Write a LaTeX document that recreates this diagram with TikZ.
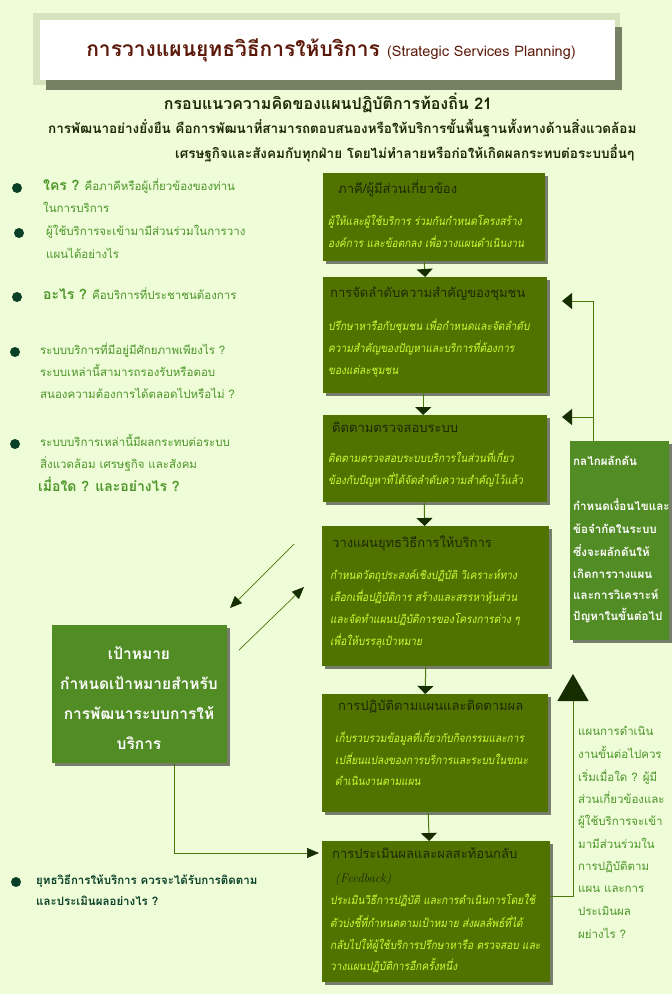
\documentclass[tikz,border=0pt]{standalone}
\usepackage{fontspec}
\newfontfamily\thai[Script=Thai]{Loma}
\newfontfamily\thaislim[Script=Thai,FakeStretch=0.88]{Loma}
\usetikzlibrary{positioning}
\usetikzlibrary{arrows.meta}
\usetikzlibrary{shadows}

\definecolor{pagegreen}{RGB}{238,252,216}
\definecolor{boxolive}{RGB}{80,115,0}
\definecolor{boxlight}{RGB}{82,140,36}
\definecolor{hdrdark}{RGB}{28,40,5}
\definecolor{bodylime}{RGB}{204,255,51}
\definecolor{tipdark}{RGB}{22,45,0}
\definecolor{linkolive}{RGB}{74,118,10}
\definecolor{asktext}{RGB}{76,150,40}
\definecolor{dotdark}{RGB}{10,64,40}
\definecolor{titlered}{RGB}{92,26,10}
\definecolor{titleglow}{RGB}{214,228,190}
\definecolor{titleshade}{RGB}{118,128,98}

\newcommand\leadq[1]{{\fontsize{14}{16}\selectfont\bfseries #1}}

\tikzset{
  mainbox/.style={fill=boxolive, anchor=north west, inner sep=0,
    drop shadow={shadow xshift=3pt, shadow yshift=-3pt, fill=black, opacity=.5}},
  sidebox/.style={mainbox, fill=boxlight},
  hdr/.style={font=\thai\fontsize{13}{15}\selectfont, text=hdrdark, anchor=mid west, inner sep=0},
  bodytxt/.style={font=\thaislim\fontsize{11.5}{14}\selectfont\itshape, text=bodylime, anchor=mid west, inner sep=0},
  sidetxt/.style={font=\thai\fontsize{11.6}{14}\selectfont\bfseries, text=white, anchor=mid west, inner sep=0},
  goaltxt/.style={font=\thai\fontsize{15.5}{18}\selectfont\bfseries, text=white, inner sep=0},
  asktxt/.style={font=\thai\fontsize{11.5}{14}\selectfont, text=asktext, anchor=mid west, inner sep=0},
  introtxt/.style={font=\thai\fontsize{13.5}{15}\selectfont\bfseries, text=hdrdark, anchor=mid west, inner sep=0},
  dot/.style={circle, fill=dotdark, minimum size=10pt, inner sep=0},
  flow/.style={draw=linkolive, line width=1pt, -{Triangle[width=16pt,length=8pt,fill=tipdark,color=tipdark]}},
  fbline/.style={draw=linkolive, line width=1pt, -{Triangle[width=16pt,length=10pt,fill=tipdark,color=tipdark]}},
  upline/.style={draw=linkolive, line width=1pt, -{Triangle[width=31pt,length=27pt,fill=tipdark,color=tipdark]}},
  goalline/.style={draw=linkolive, line width=.7pt, -{Triangle[width=10pt,length=12pt,fill=tipdark,color=tipdark]}}
}

\begin{document}
\begin{tikzpicture}[x=1pt,y=-1pt]
\useasboundingbox (0,0) rectangle (672,994);
\fill[pagegreen] (0,0) rectangle (672,994);

% heading
\fill[titleglow] (33,13) rectangle (620,85);
\fill[titleshade] (46,27) rectangle (622,90);
\fill[white] (40,20) rectangle (615,80);
\node[font=\thai\fontsize{21}{23}\selectfont\bfseries, text=titlered] (title) at (331,50)
  {การวางแผนยุทธวิธีการให้บริการ {\fontsize{14.5}{16}\selectfont\mdseries (Strategic Services Planning)}};
\node[font=\thai\fontsize{16}{19}\selectfont\bfseries, text=hdrdark] (frame) at (328,103)
  {กรอบแนวความคิดของแผนปฏิบัติการท้องถิ่น 21};
\node[introtxt] (intro1) at (48,131)
  {การพัฒนาอย่างยั่งยืน คือการพัฒนาที่สามารถตอบสนองหรือให้บริการขั้นพื้นฐานทั้งทางด้านสิ่งแวดล้อม};
\node[introtxt] (intro2) at (175,156)
  {เศรษฐกิจและสังคมกับทุกฝ่าย โดยไม่ทำลายหรือก่อให้เกิดผลกระทบต่อระบบอื่นๆ};

% questions on the left
\node[dot] (d1) at (17,188) {};
\node[dot] (d2) at (19,233) {};
\node[dot] (d3) at (17,297) {};
\node[dot] (d4) at (15,352) {};
\node[dot] (d5) at (15,444) {};
\node[dot] (d6) at (16,882) {};
\node[asktxt] (q1a) at (43,188) {\leadq{ใคร ?} คือภาคีหรือผู้เกี่ยวข้องของท่าน};
\node[asktxt] (q1b) at (43,210) {ในการบริการ};
\node[asktxt] (q2a) at (46,233) {ผู้ใช้บริการจะเข้ามามีส่วนร่วมในการวาง};
\node[asktxt] (q2b) at (46,256) {แผนได้อย่างไร};
\node[asktxt] (q3) at (43,297) {\leadq{อะไร ?} คือบริการที่ประชาชนต้องการ};
\node[asktxt] (q4a) at (40,352) {ระบบบริการที่มีอยู่มีศักยภาพเพียงไร ?};
\node[asktxt] (q4b) at (40,374) {ระบบเหล่านี้สามารถรองรับหรือตอบ};
\node[asktxt] (q4c) at (40,396) {สนองความต้องการได้ตลอดไปหรือไม่ ?};
\node[asktxt] (q5a) at (40,444) {ระบบบริการเหล่านี้มีผลกระทบต่อระบบ};
\node[asktxt] (q5b) at (40,466) {สิ่งแวดล้อม เศรษฐกิจ และสังคม};
\node[asktxt] (q5c) at (38,489) {\leadq{เมื่อใด ? และอย่างไร ?}};
\node[asktxt, text=dotdark, font=\thai\fontsize{11.5}{14}\selectfont\bfseries] (q6a) at (36,882) {ยุทธวิธีการให้บริการ ควรจะได้รับการติดตาม};
\node[asktxt, text=dotdark, font=\thai\fontsize{11.5}{14}\selectfont\bfseries] (q6b) at (36,903) {และประเมินผลอย่างไร ?};

% process boxes
\node[mainbox, minimum width=222, minimum height=88] (b1) at (323,173) {};
\node[mainbox, minimum width=224, minimum height=116] (b2) at (323,277) {};
\node[mainbox, minimum width=224, minimum height=87] (b3) at (323,415) {};
\node[mainbox, minimum width=227, minimum height=140] (b4) at (322,526) {};
\node[mainbox, minimum width=226, minimum height=118] (b5) at (322,694) {};
\node[mainbox, minimum width=228, minimum height=141] (b6) at (322,841) {};
\node[sidebox, minimum width=99, minimum height=199] (push) at (570,441) {};
\node[sidebox, minimum width=175, minimum height=138] (goal) at (52,625) {};

\node[hdr] (b1h) at (338,191) {ภาคี/ผู้มีส่วนเกี่ยวข้อง};
\node[bodytxt] (b1t1) at (328,223) {ผู้ให้และผู้ใช้บริการ ร่วมกันกำหนดโครงสร้าง};
\node[bodytxt] (b1t2) at (328,245) {องค์การ และข้อตกลง เพื่อวางแผนดำเนินงาน};

\node[hdr] (b2h) at (330,295) {การจัดลำดับความสำคัญของชุมชน};
\node[bodytxt] (b2t1) at (328,328) {ปรึกษาหารือกับชุมชน เพื่อกำหนดและจัดลำดับ};
\node[bodytxt] (b2t2) at (328,350) {ความสำคัญของปัญหาและบริการที่ต้องการ};
\node[bodytxt] (b2t3) at (328,372) {ของแต่ละชุมชน};

\node[hdr] (b3h) at (332,430) {ติดตามตรวจสอบระบบ};
\node[bodytxt] (b3t1) at (328,460) {ติดตามตรวจสอบระบบบริการในส่วนที่เกี่ยว};
\node[bodytxt] (b3t2) at (328,482) {ข้องกับปัญหาที่ได้จัดลำดับความสำคัญไว้แล้ว};

\node[hdr] (b4h) at (332,545) {วางแผนยุทธวิธีการให้บริการ};
\node[bodytxt] (b4t1) at (330,577) {กำหนดวัตถุประสงค์เชิงปฏิบัติ วิเคราะห์ทาง};
\node[bodytxt] (b4t2) at (330,599) {เลือกเพื่อปฏิบัติการ สร้างและสรรหาหุ้นส่วน};
\node[bodytxt] (b4t3) at (330,621) {และจัดทำแผนปฏิบัติการของโครงการต่าง ๆ};
\node[bodytxt] (b4t4) at (330,643) {เพื่อให้บรรลุเป้าหมาย};

\node[hdr] (b5h) at (338,708) {การปฏิบัติตามแผนและติดตามผล};
\node[bodytxt] (b5t1) at (335,740) {เก็บรวบรวมข้อมูลที่เกี่ยวกับกิจกรรมและการ};
\node[bodytxt] (b5t2) at (335,762) {เปลี่ยนแปลงของการบริการและระบบในขณะ};
\node[bodytxt] (b5t3) at (335,783) {ดำเนินงานตามแผน};

\node[hdr] (b6h) at (332,856) {การประเมินผลและผลสะท้อนกลับ};
\node[hdr, font=\rmfamily\itshape\fontsize{12.5}{14}\selectfont] (b6f) at (335,880) {(Feedback)};
\node[bodytxt] (b6t1) at (330,902) {ประเมินวิธีการปฏิบัติ และการดำเนินการโดยใช้};
\node[bodytxt] (b6t2) at (330,925) {ตัวบ่งชี้ที่กำหนดตามเป้าหมาย ส่งผลลัพธ์ที่ได้};
\node[bodytxt] (b6t3) at (330,947) {กลับไปให้ผู้ใช้บริการปรึกษาหารือ ตรวจสอบ และ};
\node[bodytxt] (b6t4) at (330,968) {วางแผนปฏิบัติการอีกครั้งหนึ่ง};

% driving force box
\node[sidetxt] (pushh) at (573,463) {กลไกผลักดัน};
\foreach \y/\t [count=\i] in {508/กำหนดเงื่อนไขและ, 531/ข้อจำกัดในระบบ, 554/ซึ่งจะผลักดันให้,
    576/เกิดการวางแผน, 597/และการวิเคราะห์, 618/ปัญหาในขั้นต่อไป}
  \node[sidetxt] (push\i) at (573,\y) {\t};

% goal box
\node[goaltxt] (goal1) at (139,653) {เป้าหมาย};
\node[goaltxt] (goal2) at (139,683) {กำหนดเป้าหมายสำหรับ};
\node[goaltxt] (goal3) at (139,713) {การพัฒนาระบบการให้};
\node[goaltxt] (goal4) at (139,743) {บริการ};

% next step questions
\foreach \y/\t [count=\i] in {733/แผนการดำเนิน, 756/งานขั้นต่อไปควร, 779/เริ่มเมื่อใด ? ผู้มี,
    801/ส่วนเกี่ยวข้องและ, 823/ผู้ใช้บริการจะเข้า, 846/มามีส่วนร่วมใน, 868/การปฏิบัติตาม,
    890/แผน และการ, 913/ประเมินผล, 936/ผย่างไร ?}
  \node[asktxt] (next\i) at (578,\y) {\t};

% connectors
\draw[flow] ([xshift=-10pt]b1.south) -- ([xshift=-10pt]b2.north);
\draw[flow] ([xshift=-12pt]b2.south) -- ([xshift=-12pt]b3.north);
\draw[flow] ([xshift=-11pt]b3.south) -- ([xshift=-11pt]b4.north);
\draw[flow] ([xshift=-10pt]b4.south) -- ([xshift=-10pt]b5.north);
\draw[flow] ([xshift=-7pt]b5.south) -- ([xshift=-7pt]b6.north);

\coordinate (fbtop) at (593,301);
\coordinate (fbin1) at (562,301);
\coordinate (fbin2) at (562,417);
\draw[fbline] (fbtop |- push.north) -- (fbtop) -- (fbin1);
\draw[fbline] (fbtop |- fbin2) -- (fbin2);

\coordinate (upturn) at (573,896);
\coordinate (uptip) at (573,674);
\draw[upline] (b6.east |- upturn) -- (upturn) -- (uptip);

\coordinate (g1s) at (294,544);
\coordinate (g1e) at (230,608);
\coordinate (g2s) at (239,650);
\coordinate (g2e) at (304,587);
\draw[goalline] (g1s) -- (g1e);
\draw[goalline] (g2s) -- (g2e);
\coordinate (gin) at (319,853);
\draw[goalline] ([xshift=35pt]goal.south) |- (gin);
\end{tikzpicture}
\end{document}
